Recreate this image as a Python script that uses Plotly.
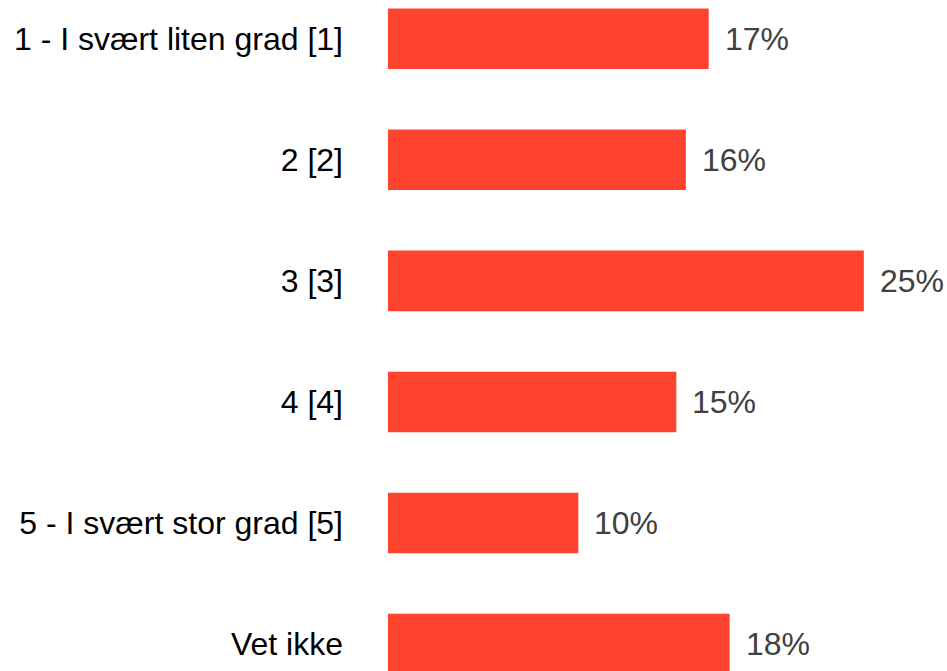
import plotly.graph_objects as go

categories = [
    "1 - I svært liten grad [1]",
    "2 [2]",
    "3 [3]",
    "4 [4]",
    "5 - I svært stor grad [5]",
    "Vet ikke",
]
values = [16.85, 15.65, 25.0, 15.15, 10.0, 17.95]
value_labels = ["17%", "16%", "25%", "15%", "10%", "18%"]

BAR_COLOR = "#FF432E"
FONT = "Liberation Sans, Arial, sans-serif"

fig = go.Figure(
    go.Bar(
        x=values,
        y=categories,
        orientation="h",
        marker=dict(color=BAR_COLOR, line=dict(width=0)),
        width=0.5,
        hoverinfo="skip",
    )
)

for cat, val, lab in zip(categories, values, value_labels):
    fig.add_annotation(
        x=val, y=cat, text=lab, showarrow=False,
        xanchor="left", yanchor="middle", xshift=14,
        font=dict(family=FONT, size=32, color="#404040"),
    )

fig.update_layout(
    width=947, height=671,
    margin=dict(l=388, r=0, t=0, b=0),
    paper_bgcolor="white", plot_bgcolor="white",
    showlegend=False,
    xaxis=dict(range=[0, 29.37], visible=False, fixedrange=True),
    yaxis=dict(
        type="category",
        categoryorder="array", categoryarray=categories,
        range=[5.2218, -0.3197],
        showgrid=False, zeroline=False, showline=False,
        ticks="", ticklabelstandoff=44,
        tickfont=dict(family=FONT, size=32, color="#000000"),
        fixedrange=True,
    ),
)

fig.write_html("out.html")
